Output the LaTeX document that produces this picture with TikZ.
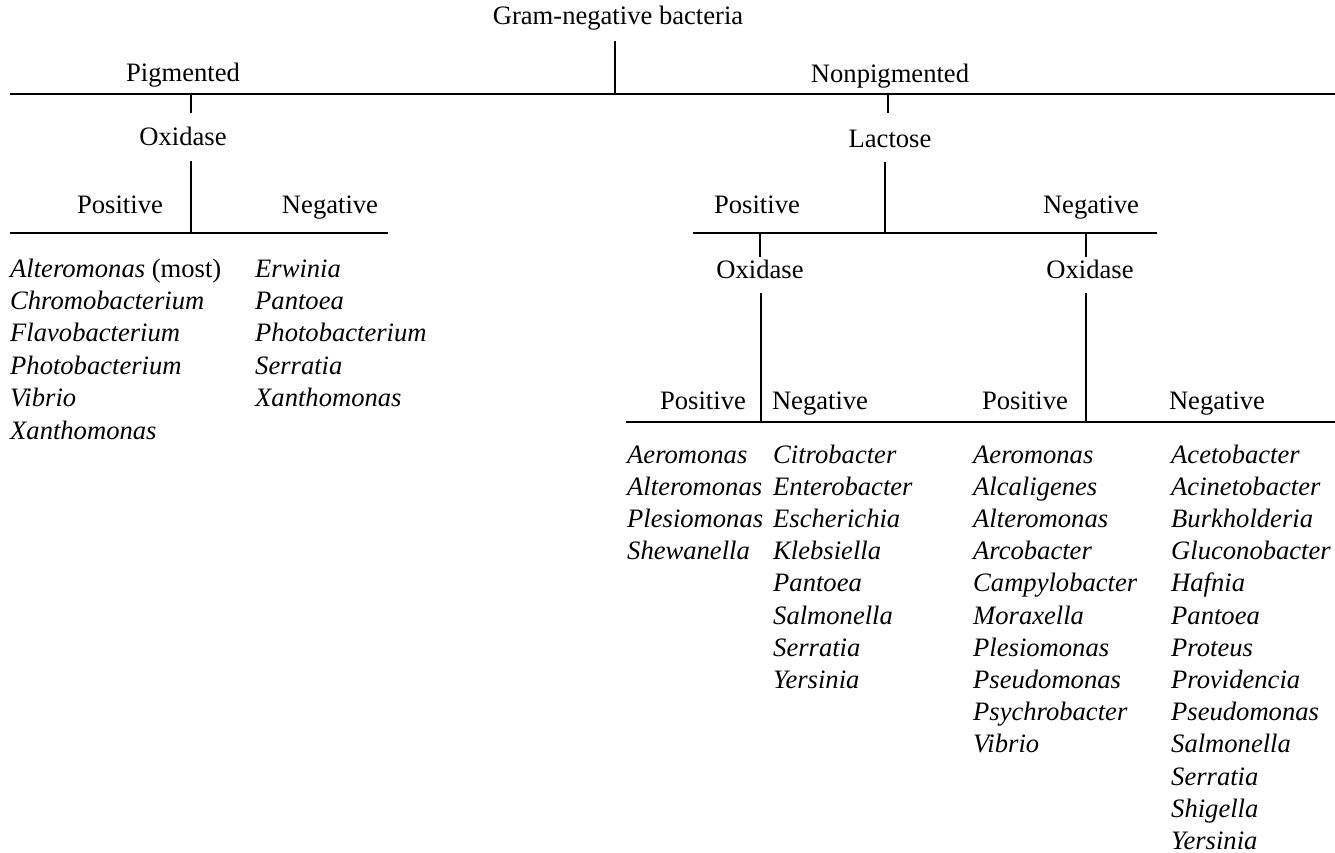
\documentclass[tikz,border=0pt]{standalone}
\usepackage{fontspec}
\setmainfont{Liberation Serif}
\begin{document}
\begin{tikzpicture}[x=1pt,y=-1pt,
  lbl/.style={anchor=base,inner sep=0pt,font=\fontsize{26.6}{32.2}\selectfont},
  item/.style={anchor=base west,inner sep=0pt,font=\fontsize{26.6}{32.2}\selectfont\itshape},
  conn/.style={line width=1.5pt,line cap=butt}]
\useasboundingbox (0,0) rectangle (1335,853);
% labels
\node[lbl] (title) at (618,25) {Gram-negative bacteria};
\node[lbl] (pig) at (183,82) {Pigmented};
\node[lbl] (nonpig) at (890,83) {Nonpigmented};
\node[lbl] (oxL) at (183,146) {Oxidase};
\node[lbl] (posL) at (120,213) {Positive};
\node[lbl] (negL) at (330,213) {Negative};
\node[lbl] (lac) at (890,148) {Lactose};
\node[lbl] (lacpos) at (757,213) {Positive};
\node[lbl] (lacneg) at (1091,213) {Negative};
\node[lbl] (ox1) at (760,278) {Oxidase};
\node[lbl] (ox2) at (1090,278) {Oxidase};
\node[lbl] (p1) at (703,409) {Positive};
\node[lbl] (n1) at (820,409) {Negative};
\node[lbl] (p2) at (1025,409) {Positive};
\node[lbl] (n2) at (1217,409) {Negative};
% junction coordinates
\coordinate (t0) at (615,41);  \coordinate (t1) at (615,94);
\coordinate (m0) at (10,94);   \coordinate (m1) at (1335,94);
\coordinate (a0) at (191,94);  \coordinate (a1) at (191,113);
\coordinate (a2) at (191,161); \coordinate (a3) at (191,233);
\coordinate (h0) at (10,233);  \coordinate (h1) at (388,233);
\coordinate (b0) at (888,94);  \coordinate (b1) at (888,113);
\coordinate (b2) at (885,162); \coordinate (b3) at (885,233);
\coordinate (k0) at (693,233); \coordinate (k1) at (1157,233);
\coordinate (c0) at (760,233); \coordinate (c1) at (760,257);
\coordinate (d0) at (1086,233);\coordinate (d1) at (1086,257);
\coordinate (c2) at (761,293); \coordinate (c3) at (761,422);
\coordinate (d2) at (1086,293);\coordinate (d3) at (1086,422);
\coordinate (g0) at (626,422); \coordinate (g1) at (1335,422);
% connectors
\draw[conn] (t0) -- (t1);
\draw[conn] (m0) -- (m1);
\draw[conn] (a0) -- (a1);
\draw[conn] (a2) -- (a3);
\draw[conn] (h0) -- (h1);
\draw[conn] (b0) -- (b1);
\draw[conn] (b2) -- (b3);
\draw[conn] (k0) -- (k1);
\draw[conn] (c0) -- (c1);
\draw[conn] (d0) -- (d1);
\draw[conn] (c2) -- (c3);
\draw[conn] (d2) -- (d3);
\draw[conn] (g0) -- (g1);
% lists
\node[item] (l1-0) at (10,277) {Alteromonas \upshape(most)};
\foreach \t [count=\i] in {Chromobacterium,Flavobacterium,Photobacterium,Vibrio,Xanthomonas}
  \node[item] (l1-\i) at (10,277+32.4*\i) {\t};
\foreach \t [count=\i from 0] in {Erwinia,Pantoea,Photobacterium,Serratia,Xanthomonas}
  \node[item] (l2-\i) at (255,277+32.4*\i) {\t};
\foreach \t [count=\i from 0] in {Aeromonas,Alteromonas,Plesiomonas,Shewanella}
  \node[item] (r1-\i) at (627,463+32.2*\i) {\t};
\foreach \t [count=\i from 0] in {Citrobacter,Enterobacter,Escherichia,Klebsiella,Pantoea,Salmonella,Serratia,Yersinia}
  \node[item] (r2-\i) at (773,463+32.2*\i) {\t};
\foreach \t [count=\i from 0] in {Aeromonas,Alcaligenes,Alteromonas,Arcobacter,Campylobacter,Moraxella,Plesiomonas,Pseudomonas,Psychrobacter,Vibrio}
  \node[item] (r3-\i) at (973,463+32.2*\i) {\t};
\foreach \t [count=\i from 0] in {Acetobacter,Acinetobacter,Burkholderia,Gluconobacter,Hafnia,Pantoea,Proteus,Providencia,Pseudomonas,Salmonella,Serratia,Shigella,Yersinia}
  \node[item] (r4-\i) at (1171,463+32.2*\i) {\t};
\end{tikzpicture}
\end{document}
